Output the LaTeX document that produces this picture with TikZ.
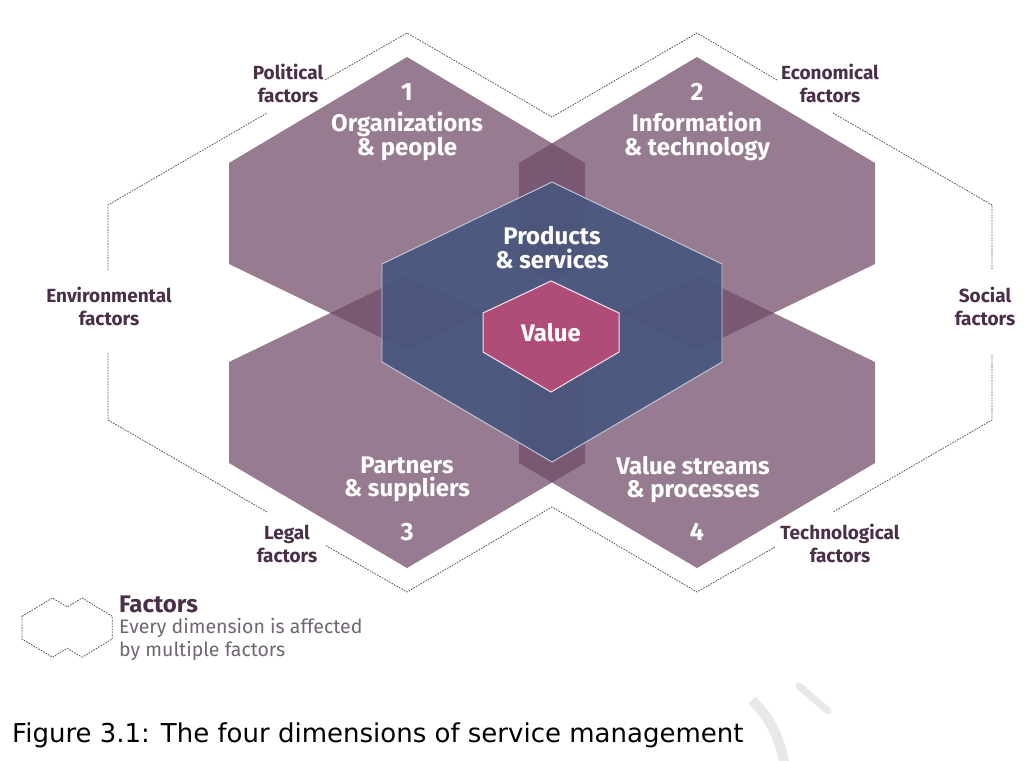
\documentclass[tikz,border=0pt]{standalone}
\usepackage{fontspec}
\setmainfont{Fira Sans}
\newfontfamily\capfont{DejaVu Sans}
\usetikzlibrary{positioning}

\definecolor{dimpurple}{RGB}{111,74,103}
\definecolor{prodblue}{RGB}{71,86,126}
\definecolor{valuepink}{RGB}{176,76,120}
\definecolor{factortext}{RGB}{74,47,72}
\definecolor{legendgray}{RGB}{112,102,114}
\definecolor{dotgray}{RGB}{85,85,85}
\definecolor{wmgray}{RGB}{232,232,232}

% hexagon: centre x, half width, y of top, upper side, lower side, bottom
\newcommand{\hexagonpath}[6]{(#1,#3) -- (#1+#2,#4) -- (#1+#2,#5) -- (#1,#6) -- (#1-#2,#5) -- (#1-#2,#4) -- cycle}

\tikzset{
  dimhex/.style={fill=dimpurple, fill opacity=0.72},
  prodhex/.style={fill=prodblue, fill opacity=0.9, draw=prodblue!30!white, line width=0.9pt},
  valuehex/.style={fill=valuepink, draw=white!85!valuepink, line width=1pt},
  factorline/.style={dotgray, line width=0.8pt, dash pattern=on 1.6pt off 1.2pt},
  factorlbl/.style={font=\fontsize{19}{23}\selectfont\bfseries, text=factortext, align=center, inner sep=0pt},
  dimlbl/.style={font=\fontsize{24}{23.5}\selectfont\bfseries, text=white, align=center, inner sep=0pt},
  numlbl/.style={font=\fontsize{25}{25}\selectfont\bfseries, text=white, inner sep=0pt}
}

\begin{document}
\begin{tikzpicture}[x=1pt, y=-1pt]
\useasboundingbox[fill=white] (0,0) rectangle (1024,760);

% the four dimensions
\fill[dimhex] \hexagonpath{407}{178}{57}{163}{264}{350};
\fill[dimhex] \hexagonpath{697}{178}{57}{163}{264}{350};
\fill[dimhex] \hexagonpath{407}{178}{276}{362}{463}{568};
\fill[dimhex] \hexagonpath{697}{178}{276}{362}{463}{568};
\draw[prodhex] \hexagonpath{552}{170}{182}{264}{362}{462};
\draw[valuehex] \hexagonpath{551}{68}{281}{313}{352}{392};

% factors outline
\draw[factorline] (325,80) -- (407,33) -- (552,117) -- (697,33) -- (777,80);
\draw[factorline] (833,113) -- (992,205) -- (992,270);
\draw[factorline] (992,355) -- (992,420) -- (833,512);
\draw[factorline] (775,547) -- (697,592) -- (552,507) -- (407,592) -- (325,545);
\draw[factorline] (267,512) -- (108,420) -- (108,353);
\draw[factorline] (108,270) -- (108,205) -- (267,113);

\node[factorlbl] (political) at (288,83.5) {Political\\factors};
\node[factorlbl] (economical) at (830,83.5) {Economical\\factors};
\node[factorlbl] (environmental) at (109,306.5) {Environmental\\factors};
\node[factorlbl] (social) at (985,306.5) {Social\\factors};
\node[factorlbl] (legal) at (287,543.5) {Legal\\factors};
\node[factorlbl] (technological) at (840,543.5) {Technological\\factors};

\node[numlbl] (num1) at (407,92) {1};
\node[dimlbl] (organizations) at (407,136.5) {Organizations\\\& people};
\node[numlbl] (num2) at (697,92) {2};
\node[dimlbl] (information) at (697,136.5) {Information\\\& technology};
\node[dimlbl] (products) at (552,247.5) {Products\\\& services};
\node[dimlbl] (value) at (551,333) {Value};
\node[dimlbl] (partners) at (407,479.5) {Partners\\\& suppliers};
\node[numlbl] (num3) at (407,532) {3};
\node[dimlbl] (streams) at (693,479.5) {Value streams\\\& processes};
\node[numlbl] (num4) at (697,532) {4};

% legend
\begin{scope}[shift={(11,594.5)}, xscale=0.102, yscale=0.106]
\draw[factorline] (108,205) -- (407,33) -- (552,117) -- (697,33) -- (992,205) -- (992,420)
  -- (697,592) -- (552,507) -- (407,592) -- (108,420) -- cycle;
\end{scope}
\node[anchor=west, inner sep=0pt, text=factortext, font=\fontsize{24}{24}\selectfont\bfseries] (factors) at (119,604) {Factors};
\node[anchor=north west, inner sep=0pt, text=legendgray, align=left, font=\fontsize{19.5}{23}\selectfont] (affected) at (119,618) {Every dimension is affected\\by multiple factors};

% caption
\node[anchor=west, inner sep=0pt, font=\capfont\fontsize{26}{26}\selectfont] (caption) at (12,735) {Figure 3.1: The four dimensions of service management};

% watermark
\draw[wmgray, line width=7pt, line cap=round] (799,686) -- (828,711);
\draw[wmgray, line width=10pt] (752,700) .. controls (772,720) and (780,740) .. (784,762);
\end{tikzpicture}
\end{document}
